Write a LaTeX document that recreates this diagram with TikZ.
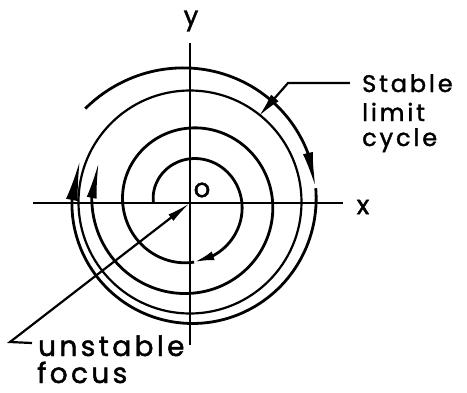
\documentclass[tikz,border=0pt]{standalone}
\usepackage{fontspec}
\setmainfont{Poppins}
\newfontfamily\lab[LetterSpace=12,FakeBold=1.6]{Poppins}
\newfontfamily\axfont[FakeBold=1.6]{Poppins}
\usetikzlibrary{arrows.meta}
\begin{document}
\begin{tikzpicture}[x=1pt,y=1pt,
  declare function={ro(\t)=118+23*((\t+201)/339)*((\t+201)/339); ri(\t)=36.5+7.7*(180-\t)/90;},
  curve/.style={line width=2.8pt},
  axisline/.style={line width=2.6pt},
  lbl/.style={font=\lab\fontsize{24}{28}\selectfont, anchor=base west, inner sep=0pt},
  biglbl/.style={font=\lab\fontsize{28}{32}\selectfont, anchor=base west, inner sep=0pt},
  axlbl/.style={font=\axfont\fontsize{26}{30}\selectfont, inner sep=0pt},
  pointer/.style={line width=2.2pt},
]
\useasboundingbox (-190,-189) rectangle (277,203);
% axes
\coordinate (O) at (0,0);
\coordinate (xl) at (-157,0); \coordinate (xr) at (153,0);
\coordinate (yb) at (0,-142); \coordinate (yt) at (0,160);
\draw[axisline] (xl) -- (xr);
\draw[axisline] (yb) -- (yt);
\node[axlbl] (xlab) at (173,-4) {x};
\node[axlbl] (ylab) at (1,182) {y};
\node[axlbl] (olab) at (12,13) {o};
% stable limit cycle
\draw[line width=2.2pt] (0,1) circle[radius=111.5];
% outer spiral (approaching from outside)
\draw[curve,-{Latex[length=36pt,width=10pt]}] plot[domain=138:23,samples=60] (\x:{ro(\x)}) -- (6.7:{ro(6.7)});
\draw[curve,-{Latex[length=40pt,width=12pt]}] plot[domain=6.7:-181.6,samples=90] (\x:{ro(\x)}) -- (-201:{ro(-201)});
% inner spiral (from unstable focus)
\draw[curve,-{Latex[length=20pt,width=9pt]}] plot[domain=180:-66.7,samples=80] (\x:{ri(\x)}) -- (-86:{ri(-86)});
\draw[curve,-{Latex[length=37pt,width=10pt]}] plot[domain=-86:-543.3,samples=160] (\x:{ri(\x)}) -- (-564.5:{ri(-564.5)});
% labels
\node[lbl] (stable) at (172,111) {Stable};
\node[lbl] (limit) at (172,82) {limit};
\node[lbl] (cycle) at (172,57) {cycle};
\node[biglbl] (unstable) at (-152,-153) {unstable};
\node[biglbl] (focus) at (-153,-180) {focus};
% pointers
\coordinate (sp1) at (160,120);
\coordinate (sp2) at (98,120);
\coordinate (lc) at (69,87);
\draw[pointer,-{Latex[length=24pt,width=10pt]}] (sp1) -- (sp2) -- (lc);
\coordinate (up1) at (-158,-140);
\coordinate (up2) at (-180,-139);
\draw[pointer,-{Latex[length=24pt,width=8pt]}] (up1) -- (up2) -- (O);
\end{tikzpicture}
\end{document}
